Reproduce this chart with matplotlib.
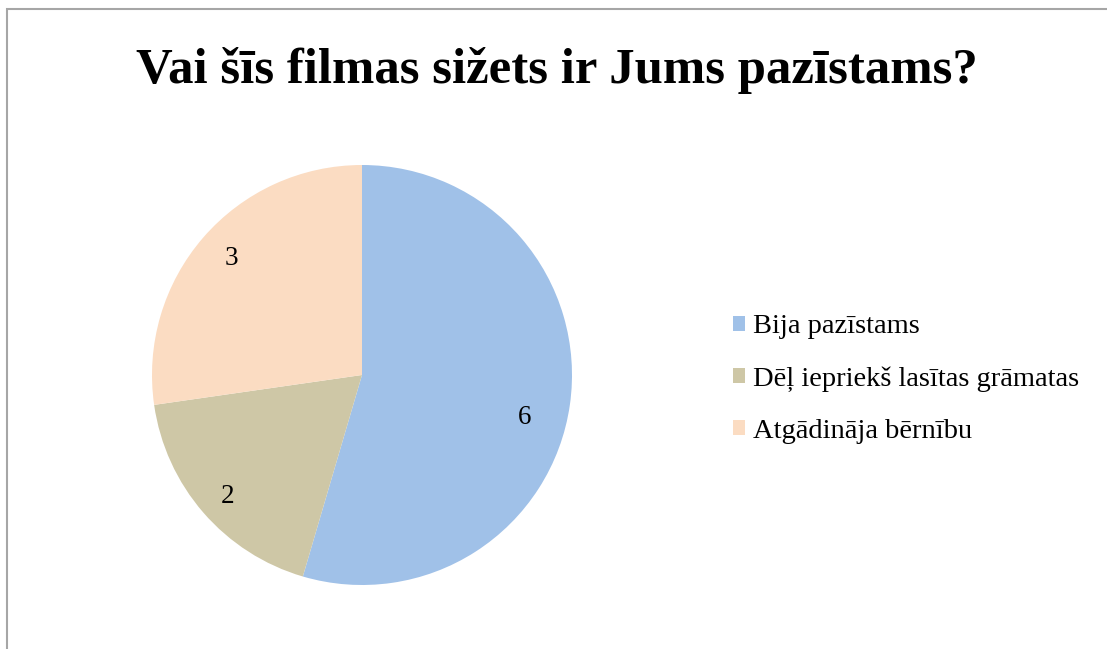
import matplotlib.pyplot as plt
from matplotlib.patches import Rectangle

# Chart data
labels = ['Bija pazīstams', 'Dēļ iepriekš lasītas grāmatas', 'Atgādināja bērnību']
values = [6, 2, 3]
colors = ['#A0C1E8', '#CEC7A6', '#FBDCC2']

plt.rcParams['font.family'] = ['Liberation Serif', 'DejaVu Serif']

W, H = 1107, 649
fig = plt.figure(figsize=(W / 100, H / 100), dpi=100)

# Outer frame (only top and left edge visible in the crop)
fig.patches.append(Rectangle((7 / W, -0.1), 1.2, 1 - 8.5 / H + 0.1,
                             transform=fig.transFigure, fill=False,
                             edgecolor='#a6a6a6', linewidth=1.5))

# Pie axes: center (362, 375), radius 210 px
cx, cy, r = 362, 375, 210
ax = fig.add_axes([(cx - r) / W, (H - cy - r) / H, 2 * r / W, 2 * r / H])
wedges, _, autotexts = ax.pie(values, colors=colors, startangle=90, counterclock=False,
                              autopct=lambda p: '{:.0f}'.format(p * sum(values) / 100),
                              pctdistance=0.82, radius=1.0,
                              wedgeprops={'linewidth': 0})
# nudge labels to where the original places them
label_pos = [(0.776, -0.20), (-0.638, -0.58), (-0.624, 0.557)]
for t, pos in zip(autotexts, label_pos):
    t.set_fontsize(19.5)
    t.set_color('black')
    t.set_position(pos)
ax.set_xlim(-1, 1)
ax.set_ylim(-1, 1)
ax.set_aspect('equal')

# Title
fig.text(557 / W, 1 - 70 / H, 'Vai šīs filmas sižets ir Jums pazīstams?',
         ha='center', va='center', fontsize=36.5, fontweight='bold')

# Legend
fig.legend(wedges, labels, loc='center left', bbox_to_anchor=(733 / W, 1 - 379 / H),
           frameon=False, fontsize=20.5, handlelength=0.42, handleheight=0.42,
           handletextpad=0.28, labelspacing=0.94, borderaxespad=0, borderpad=0)

fig.savefig('out.png', dpi=100)
